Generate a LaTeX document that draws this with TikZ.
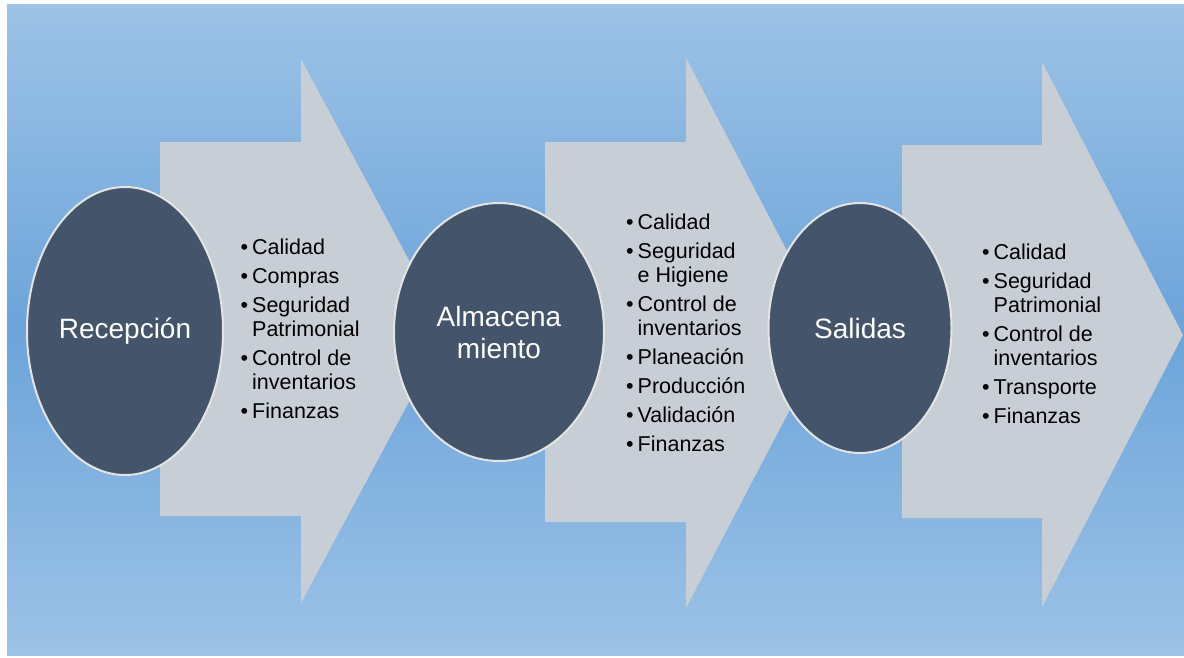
\documentclass[tikz,border=0pt]{standalone}
\usepackage{fontspec}
\setmainfont{Liberation Sans}
\usetikzlibrary{shapes.geometric}
\definecolor{bgl}{HTML}{9DC3E6}
\definecolor{bgm}{HTML}{6CA4DA}
\definecolor{arr}{HTML}{C8CED6}
\definecolor{ell}{HTML}{44546A}
\definecolor{ellb}{HTML}{E4E4E4}
\newcommand\bitem[1]{\makebox[11.5pt][l]{•}#1}
\newcommand\bcont[1]{\hspace*{11.5pt}#1}
\begin{document}
\begin{tikzpicture}[x=1pt,y=-1pt,
  ellnode/.style={ellipse, draw=ellb, line width=2pt, fill=ell, inner sep=0pt,
    text=white, font=\fontsize{28}{32}\selectfont, align=center},
  listnode/.style={anchor=north west, inner sep=0pt, align=left,
    font=\fontsize{21.5}{24}\selectfont, text=black},
  arrowshape/.style={fill=arr, draw=none}]
\useasboundingbox (0,0) rectangle (1184,657);
\fill[white] (0,0) rectangle (1184,657);
\shade[top color=bgl, bottom color=bgl, middle color=bgm] (7,4) rectangle (1184,655);
% arrows
\fill[arrowshape] (160,142) -- (301,142) -- (301,59) -- (447,331) -- (301,603) -- (301,516) -- (160,516) -- cycle;
\fill[arrowshape] (545,142) -- (686,142) -- (686,58) -- (830,333) -- (686,608) -- (686,522) -- (545,522) -- cycle;
\fill[arrowshape] (902,145) -- (1042,145) -- (1042,62) -- (1183,335) -- (1042,607) -- (1042,518) -- (902,518) -- cycle;
% ellipses
\node[ellnode, minimum width=196pt, minimum height=288pt] (rec) at (125,331) {Recepción};
\node[ellnode, minimum width=210pt, minimum height=258pt] (alm) at (499,332) {Almacena\\miento};
\node[ellnode, minimum width=183pt, minimum height=250pt] (sal) at (860,328) {Salidas};
% lists
\node[listnode] (l1) at (240.5,238.5) {\bitem{Calidad}\\[5pt]
\bitem{Compras}\\[5pt]
\bitem{Seguridad}\\
\bcont{Patrimonial}\\[5pt]
\bitem{Control de}\\
\bcont{inventarios}\\[5pt]
\bitem{Finanzas}};
\node[listnode] (l2) at (626,213.5) {\bitem{Calidad}\\[5pt]
\bitem{Seguridad}\\
\bcont{e Higiene}\\[5pt]
\bitem{Control de}\\
\bcont{inventarios}\\[5pt]
\bitem{Planeación}\\[5pt]
\bitem{Producción}\\[5pt]
\bitem{Validación}\\[5pt]
\bitem{Finanzas}};
\node[listnode] (l3) at (982,243.5) {\bitem{Calidad}\\[5pt]
\bitem{Seguridad}\\
\bcont{Patrimonial}\\[5pt]
\bitem{Control de}\\
\bcont{inventarios}\\[5pt]
\bitem{Transporte}\\[5pt]
\bitem{Finanzas}};
\end{tikzpicture}
\end{document}
